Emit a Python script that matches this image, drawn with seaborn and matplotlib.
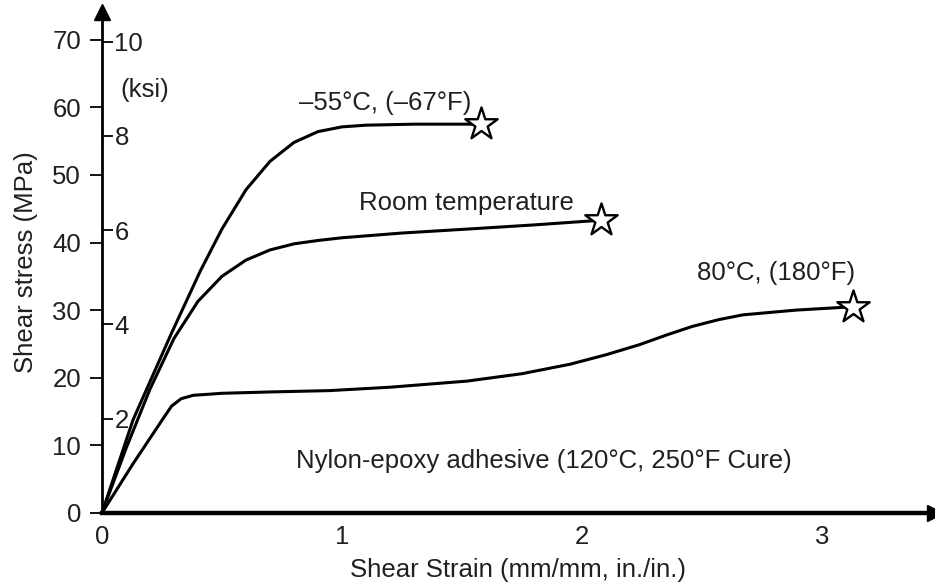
import numpy as np
import pandas as pd
import matplotlib
matplotlib.use("Agg")
import matplotlib.pyplot as plt
import seaborn as sns

# curves (shear strain, shear stress MPa)
strain_cold = [0, 0.13, 0.29, 0.41, 0.5, 0.6, 0.7, 0.8, 0.9, 1.0, 1.1, 1.3, 1.58]
stress_cold = [0, 13.8, 26.6, 35.8, 42.0, 47.8, 52.0, 54.8, 56.4, 57.1, 57.35, 57.5, 57.5]

strain_room = [0, 0.1, 0.2, 0.3, 0.4, 0.5, 0.6, 0.7, 0.8, 0.9, 1.0, 1.25, 1.575, 1.8, 2.08]
stress_room = [0, 9.5, 18.3, 25.8, 31.3, 35.0, 37.4, 38.9, 39.8, 40.3, 40.7, 41.4, 42.1, 42.6, 43.3]

strain_hot = [0, 0.13, 0.25, 0.29, 0.33, 0.38, 0.5, 0.7, 0.95, 1.2, 1.52, 1.75, 1.95,
              2.1, 2.24, 2.35, 2.46, 2.57, 2.67, 2.89, 3.13]
stress_hot = [0, 7.3, 13.7, 15.8, 16.9, 17.4, 17.7, 17.9, 18.1, 18.6, 19.5, 20.6, 22.0,
              23.4, 24.9, 26.3, 27.6, 28.6, 29.3, 30.0, 30.5]

curve_names = ["-55C", "room", "80C"]
curve_labels = ["\u201355\u00b0C, (\u201367\u00b0F)", "Room temperature", "80\u00b0C, (180\u00b0F)"]
label_x = [1.18, 1.52, 2.81]
label_y = [60.6, 45.9, 35.5]

ksi_ticks = [2, 4, 6, 8, 10]
mpa_per_ksi = 6.97  # as drawn in the reference

frames = []
for name, xs, ys in zip(curve_names,
                        [strain_cold, strain_room, strain_hot],
                        [stress_cold, stress_room, stress_hot]):
    frames.append(pd.DataFrame({"strain": xs, "stress": ys, "curve": name}))
df = pd.concat(frames, ignore_index=True)
ends = df.groupby("curve", sort=False).tail(1)

sns.set_style("white")
plt.rcParams["font.family"] = ["Liberation Sans", "DejaVu Sans"]
ink = "#231f20"
fs = 18.5

fig = plt.figure(figsize=(9.35, 5.84), dpi=100)
ax = fig.add_axes([0.109, 0.1216, 0.891, 0.858])

sns.lineplot(data=df, x="strain", y="stress", units="curve", estimator=None,
             sort=False, color="black", linewidth=2.2, ax=ax,
             solid_joinstyle="round", solid_capstyle="round")
ax.scatter(ends["strain"], ends["stress"], marker="*", s=600, facecolor="white",
           edgecolor="black", linewidth=1.7, zorder=5, clip_on=False)

ymax = 74.1
ax.set_xlim(0, 3.47)
ax.set_ylim(0, ymax)

for s in ["top", "right"]:
    ax.spines[s].set_visible(False)
ax.spines["left"].set_linewidth(2.0)
ax.spines["bottom"].set_linewidth(3.2)
ax.spines["left"].set_color("black")
ax.spines["bottom"].set_color("black")

# arrow heads
ax.plot(1, 0, marker=">", color="black", markersize=11, transform=ax.transAxes, clip_on=False)
ax.plot(0, 1, marker="^", color="black", markersize=11, transform=ax.transAxes, clip_on=False)

ax.set_xticks(np.arange(0, 3.01, 0.5))
ax.set_xticklabels(["0", "", "1", "", "2", "", "3"])
ax.tick_params(axis="x", direction="in", length=9, width=1.3, colors=ink,
               labelsize=fs, pad=9, color="black")
ax.set_yticks(range(0, 71, 10))
ax.tick_params(axis="y", direction="out", length=9, width=1.3, labelsize=fs,
               labelcolor=ink, color="black", pad=6)

ax.set_xlabel("Shear Strain (mm/mm, in./in.)", fontsize=fs, color=ink, labelpad=6)
ax.set_ylabel("Shear stress (MPa)", fontsize=fs, color=ink, labelpad=10)

# ksi scale on the inside of the stress axis
ax2 = ax.twinx()
ax2.set_ylim(0, ymax / mpa_per_ksi)
ax2.spines["right"].set_position(("axes", 0))
for s in ["top", "left", "bottom", "right"]:
    ax2.spines[s].set_visible(False)
ax2.set_yticks(ksi_ticks)
ax2.tick_params(axis="y", direction="out", length=8, width=1.3, labelsize=fs,
                labelcolor=ink, color="black", pad=1)
ax2.text(0.18, 62.6 / mpa_per_ksi, "(ksi)", fontsize=fs, color=ink, ha="center", va="center")

for txt, lx, ly in zip(curve_labels, label_x, label_y):
    ax.text(lx, ly, txt, fontsize=fs, color=ink, ha="center", va="center")
ax.text(1.84, 7.7, "Nylon-epoxy adhesive (120\u00b0C, 250\u00b0F Cure)", fontsize=fs,
        color=ink, ha="center", va="center")

fig.savefig("out.png", dpi=100)
